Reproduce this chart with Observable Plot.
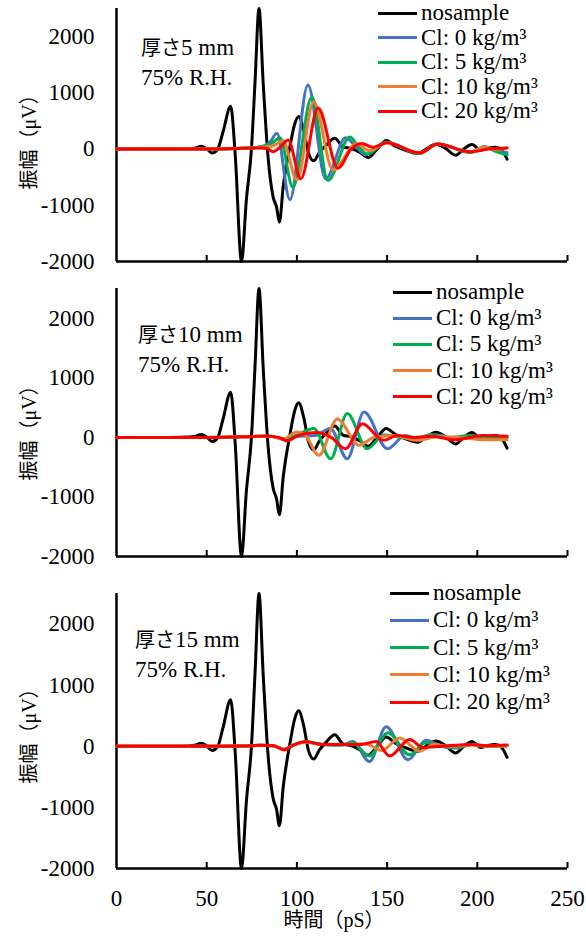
<!DOCTYPE html>
<html>
<head>
<meta charset="utf-8">
<script src="https://cdn.jsdelivr.net/npm/d3@7"></script>
<script src="https://cdn.jsdelivr.net/npm/@observablehq/plot@0.6"></script>
<style>
  body { margin: 0; background: #fff; }
  #chart { position: relative; width: 586px; height: 938px; overflow: hidden;
           font-family: "Liberation Serif", "Times New Roman", serif; color: #000; }
  #chart svg { position: absolute; left: 0; }
  .jp { font-family: "Noto Sans CJK JP", sans-serif; }
  .note { position: absolute; font-size: 23px; line-height: 30px; white-space: nowrap; }
  .note .jp { font-size: 20px; }
  .legend-row { position: absolute; display: flex; align-items: center; white-space: nowrap;
                font-size: 23px; height: 24px; transform: translateY(-50%); }
  .legend-row .swatch { display: inline-block; width: 39px; height: 3px; margin-right: 4px; }
  .ylabel { position: absolute; font-size: 20px; white-space: nowrap;
            font-family: "Liberation Serif", "Noto Sans CJK JP", serif;
            transform: translate(-50%, -50%) rotate(-90deg); }
  .xlabel { position: absolute; font-size: 20px; white-space: nowrap;
            font-family: "Liberation Serif", "Noto Sans CJK JP", serif;
            transform: translate(-50%, -50%); }
</style>
</head>
<body>
<div id="chart"></div>
<script>
// Axis ticks and domains
const xTicks = [0, 50, 100, 150, 200, 250];
const yTicks = [-2000, -1000, 0, 1000, 2000];
const xDomain = [0, 250];
const yDomain = [-2000, 2500];

// Series names and colours
const seriesNames = ["nosample", "Cl: 0 kg/m³", "Cl: 5 kg/m³", "Cl: 10 kg/m³", "Cl: 20 kg/m³"];
const seriesColors = ["#000000", "#4472C4", "#00B050", "#ED7D31", "#FF0000"];

// Specimen thickness (mm) and humidity of each panel
const thicknesses = [5, 10, 15];
const humidity = "75% R.H.";

// Reference waveform without a specimen: [time (pS), amplitude (μV)]
const nosample = [
  [0, 0], [30, 0], [40, 5], [44, 20], [47, 50], [50, 5], [53, -70], [56, -10], [59, 300],
  [63.3, 760], [65.8, -100], [69.3, -2000], [72, -900], [74.8, 0], [76.8, 1200], [79, 2500],
  [81.3, 1180], [84, -140], [86.8, -850], [88.7, -1030], [90.3, -1300], [92.4, -670],
  [96.1, 40], [98.9, 460], [101, 580], [103.8, 330], [106.5, -80], [109.3, -210], [112.5, -60],
  [116, 60], [121, 190], [125.5, 40], [130, 10], [135, -60], [139.5, -150], [144.5, 0],
  [149.5, 150], [154.5, 50], [160, -20], [167, -80], [172, 10], [177, 85], [182, 20],
  [188, -110], [192.5, 0], [197, 80], [202, -20], [206, 15], [210, 30], [213.5, -20], [216.5, -180]
];

// Thickness 5 mm
const cl0_5mm = [
  [0, 0], [50, 0], [70, 15], [80, 40], [85, 120], [88.9, 280], [96.1, -900], [106.1, 1140],
  [116, -530], [127, 200], [133, 30], [138, -100], [149, 120], [168, -80], [178, 90],
  [196, -60], [204, 40], [210, -30], [216.5, -60]
];
const cl5_5mm = [
  [0, 0], [50, 0], [70, 15], [80, 35], [86, 100], [90.6, 200], [97.8, -680], [108.3, 930],
  [117.2, -560], [129.4, 215], [134, 50], [139, -90], [149.5, 120], [168, -80], [178, 90],
  [196, -60], [204, 40], [210, -40], [216.5, -100]
];
const cl10_5mm = [
  [0, 0], [50, 0], [70, 15], [80, 30], [87, 60], [92.2, 150], [100, -550], [109.3, 840],
  [120, -370], [133.3, 100], [140, -30], [150, 110], [168, -70], [178, 90], [196, -50],
  [204, 30], [210, -10], [216.5, 20]
];
const cl20_5mm = [
  [0, 0], [50, 0], [65, 10], [80, 20], [84, 0], [86.7, -50], [91, 40], [95.2, 160],
  [102.2, -530], [111.7, 730], [122.8, -340], [130, 0], [136, 100], [142, 30], [150, 110],
  [168, -70], [178, 90], [196, -50], [206, 0], [216.5, 20]
];

// Thickness 10 mm
const cl0_10mm = [
  [0, 0], [50, 0], [70, 10], [85, 20], [93, -30], [100, 20], [110, 30], [118.5, 150],
  [127.9, -360], [137.2, 425], [150.2, -190], [160, 30], [168, -20], [178, 40], [188, -30],
  [198, 20], [208, -10], [216.5, 10]
];
const cl5_10mm = [
  [0, 0], [50, 0], [70, 10], [85, 20], [93, -30], [100, 40], [109.4, 150], [118.7, -360],
  [127.9, 400], [139, -190], [148.3, 40], [158, 0], [166, -30], [174, 50], [185, 0],
  [196, 30], [205, -10], [216.5, 0]
];
const cl10_10mm = [
  [0, 0], [50, 0], [70, 10], [85, 20], [92, -30], [100, 90], [104, 60], [112.2, -300],
  [122.4, 310], [134.4, -130], [142.8, 0], [153.7, 30], [166.7, -50], [178, 10], [190, 0],
  [203.9, -40], [216.5, -40]
];
const cl20_10mm = [
  [0, 0], [50, 0], [70, 10], [82, 25], [90, 0], [94.6, -60], [100, 20], [106, 70], [111, 80],
  [119, 0], [127, -190], [136.3, 230], [148, -50], [155.6, 30], [165, 0], [175, 20],
  [187, -40], [203, 30], [216.5, 20]
];

// Thickness 15 mm
const cl0_15mm = [
  [0, 0], [50, 0], [70, 5], [80, 15], [87, 10], [92.9, -50], [98, 20], [104.9, 70], [114, 30],
  [125, 20], [131, 80], [140.2, -250], [149.5, 320], [161.6, -220], [171.6, 100], [180, 0],
  [188, -30], [197, 30], [206, 0], [216.5, 10]
];
const cl5_15mm = [
  [0, 0], [50, 0], [70, 5], [80, 15], [87, 10], [92.9, -50], [98, 20], [104.9, 70], [114, 30],
  [125, 20], [131, 60], [140, -160], [150.5, 220], [162.5, -140], [171.6, 60], [180, 0],
  [188, -20], [197, 30], [206, 0], [216.5, 10]
];
const cl10_15mm = [
  [0, 0], [50, 0], [70, 5], [80, 15], [87, 10], [92.9, -50], [98, 20], [104.9, 70], [114, 30],
  [128, 30], [138, 40], [147, -70], [157, 135], [168, -80], [176, 30], [185, 0], [197, 20],
  [205, 0], [216.5, 10]
];
const cl20_15mm = [
  [0, 0], [50, 0], [70, 5], [80, 15], [87, 10], [92.9, -60], [98, 20], [104.9, 80],
  [113.7, 30], [128.6, 30], [136, 30], [143.9, 80], [151.4, -160], [162.5, 110], [170, -20],
  [180, 0], [197, 30], [205, 10], [216.5, 20]
];

const panelSeries = [
  [nosample, cl0_5mm, cl5_5mm, cl10_5mm, cl20_5mm],
  [nosample, cl0_10mm, cl5_10mm, cl10_10mm, cl20_10mm],
  [nosample, cl0_15mm, cl5_15mm, cl10_15mm, cl20_15mm]
];

// Page layout of the three stacked panels
const layout = [
  {top: 0,   height: 271, marginTop: 8,  marginBottom: 10,
   note: {x: 141, y: 32}, legend: {y0: 13, step: 24.6, swatch: 378}, ylabelY: 137},
  {top: 278, height: 288, marginTop: 10, marginBottom: 10,
   note: {x: 138, y: 319}, legend: {y0: 292, step: 26.2, swatch: 393}, ylabelY: 428},
  {top: 583, height: 355, marginTop: 10, marginBottom: 70,
   note: {x: 135, y: 624}, legend: {y0: 593, step: 27.3, swatch: 390}, ylabelY: 731}
];

const root = document.getElementById("chart");
const fmt = d => String(d);

layout.forEach((p, k) => {
  const rows = [];
  panelSeries[k].forEach((pts, j) =>
    pts.forEach(([t, v]) => rows.push({series: seriesNames[j], t, v})));

  const isBottom = k === layout.length - 1;
  const marks = [
    Plot.axisY({ticks: yTicks, tickSize: 0, tickPadding: 22, tickFormat: fmt, label: null}),
    // inward tick marks on the time axis
    Plot.ruleX(xTicks.slice(1), {y1: yDomain[0], y2: yDomain[0], insetTop: -6, strokeWidth: 2}),
    Plot.ruleX([xDomain[0]], {strokeWidth: 2.5}),
    Plot.ruleY([yDomain[0]], {strokeWidth: 2.5}),
    Plot.line(rows, {x: "t", y: "v", z: "series", stroke: "series",
                     strokeWidth: 3, curve: "monotone-x"})
  ];
  if (isBottom) {
    marks.unshift(Plot.axisX({ticks: xTicks, tickSize: 0, tickPadding: 21, tickFormat: fmt, label: null}));
  }

  const svg = Plot.plot({
    width: 586,
    height: p.height,
    marginLeft: 116,
    marginRight: 19,
    marginTop: p.marginTop,
    marginBottom: p.marginBottom,
    x: isBottom ? {domain: xDomain} : {domain: xDomain, axis: null},
    y: {domain: yDomain},
    color: {domain: seriesNames, range: seriesColors},
    style: {fontFamily: '"Liberation Serif", "Times New Roman", serif', fontSize: "23px",
            color: "#000", background: "transparent", overflow: "visible"},
    marks
  });
  svg.style.top = p.top + "px";
  root.append(svg);

  // thickness / humidity note
  const note = document.createElement("div");
  note.className = "note";
  note.style.left = p.note.x + "px";
  note.style.top = p.note.y + "px";
  note.innerHTML = `<span class="jp">厚さ</span>${thicknesses[k]} mm<br>${humidity}`;
  root.append(note);

  // legend
  seriesNames.forEach((name, j) => {
    const row = document.createElement("div");
    row.className = "legend-row";
    row.style.left = p.legend.swatch + "px";
    row.style.top = (p.legend.y0 + j * p.legend.step) + "px";
    row.innerHTML = `<span class="swatch" style="background:${seriesColors[j]}"></span><span>${name}</span>`;
    root.append(row);
  });

  // y-axis title
  const yl = document.createElement("div");
  yl.className = "ylabel";
  yl.style.left = "27px";
  yl.style.top = p.ylabelY + "px";
  yl.textContent = "振幅（μV）";
  root.append(yl);
});

// x-axis title
const xl = document.createElement("div");
xl.className = "xlabel";
xl.style.left = "334px";
xl.style.top = "918px";
xl.textContent = "時間（pS）";
root.append(xl);
</script>
</body>
</html>
